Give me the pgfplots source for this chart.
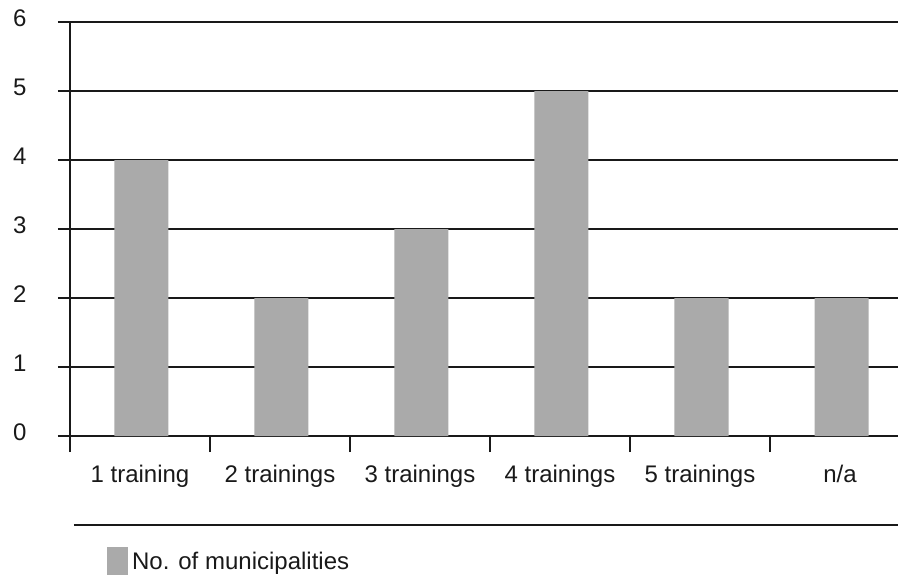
\documentclass[border=0pt]{standalone}
\usepackage{fontspec}
\setmainfont{Liberation Sans}
\usepackage{pgfplots}
\pgfplotsset{compat=1.18}
\definecolor{barfill}{RGB}{170,170,170}
\definecolor{ink}{RGB}{25,25,25}

\begin{document}
\begin{tikzpicture}
\begin{axis}[
  at={(0pt,0pt)}, anchor=south west,
  scale only axis, width=840pt, height=414pt,
  xmin=-0.5, xmax=5.5, ymin=0, ymax=6,
  axis lines=left, axis line style={-, line width=2.6pt, draw=ink},
  ytick={0,...,6}, ymajorgrids, grid style={line width=2.6pt, draw=ink},
  xtick={0,...,5},
  xticklabels={1 training, 2 trainings, 3 trainings, 4 trainings, 5 trainings, n/a},
  minor xtick={-0.5,0.5,...,5.5},
  tick align=outside,
  major tick length=12pt, minor tick length=16pt,
  major x tick style={draw=none},
  minor x tick style={line width=2.6pt, draw=ink},
  major y tick style={line width=2.6pt, draw=ink},
  tick label style={font=\fontsize{24}{28}\selectfont, text=ink},
  /pgf/number format/assume math mode=true,
  yticklabel style={xshift=-28pt, yshift=4pt},
  xticklabel style={yshift=-14pt},
  ybar, bar width=54pt, bar shift=1.5pt,
  legend style={at={(0.044,-0.268)}, anchor=north west, draw=none, fill=none,
    font=\fontsize{24}{28}\selectfont, text=ink, inner sep=0pt},
  legend image code/.code={\fill[barfill] (0pt,-14pt) rectangle (21pt,14pt);},
]
\addplot[fill=barfill, draw=none] coordinates {(0,4) (1,2) (2,3) (3,5) (4,2) (5,2)};
\legend{\hspace{2pt}No. of municipalities}
\end{axis}
% rule separating the plot from its key
\draw[line width=2.8pt, ink] (4pt,-89pt) -- (840pt,-89pt);
\pgfresetboundingbox
\useasboundingbox (-70pt,-138pt) rectangle (828pt,436pt);
\end{tikzpicture}
\end{document}
